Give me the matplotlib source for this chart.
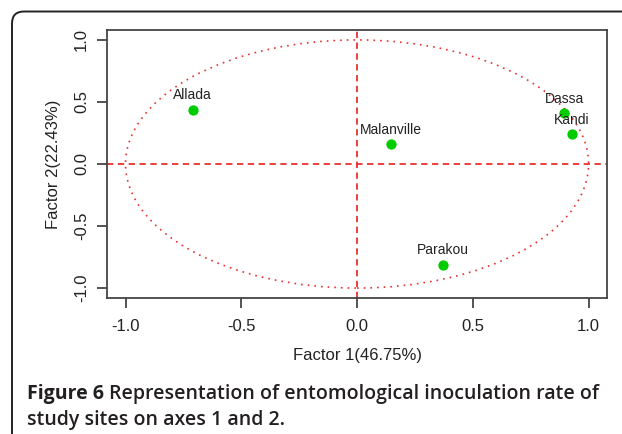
import matplotlib
matplotlib.use("Agg")
import matplotlib.pyplot as plt
import numpy as np
from matplotlib.patches import FancyBboxPatch, Ellipse

# site coordinates on factors 1 and 2
sites = ["Allada", "Malanville", "Dassa", "Kandi", "Parakou"]
factor1 = [-0.71, 0.147, 0.896, 0.929, 0.372]
factor2 = [0.437, 0.161, 0.408, 0.242, -0.813]

ticks = [-1.0, -0.5, 0.0, 0.5, 1.0]
tick_labels = ["-1.0", "-0.5", "0.0", "0.5", "1.0"]

plt.rcParams['font.family'] = ['Liberation Sans', 'DejaVu Sans']

fig = plt.figure(figsize=(6.22, 4.34), dpi=100)

# rounded frame, open on the right and bottom
frame = FancyBboxPatch((0.12, -0.3), 6.5, 4.225 + 0.3,
                       boxstyle="round,pad=0,rounding_size=0.12",
                       transform=fig.dpi_scale_trans, fill=False,
                       edgecolor="#222222", linewidth=1.4)
fig.patches.append(frame)

ax = fig.add_axes([0.172, 0.3134, 0.804, 0.6175])

red = "#e8322f"
ax.add_patch(Ellipse((0, 0), 2, 2, fill=False, edgecolor=red,
                     linestyle=(0, (1, 3)), linewidth=1.2))
ax.axhline(0, color=red, linestyle=(0, (3.5, 2.5)), linewidth=1.3)
ax.axvline(0, color=red, linestyle=(0, (3.5, 2.5)), linewidth=1.3)

ax.scatter(factor1, factor2, s=55, color="#00cd00", zorder=3, linewidths=0)
for name, x, y in zip(sites, factor1, factor2):
    ax.annotate(name, (x, y), xytext=(0, 7.5), textcoords="offset points",
                ha="center", va="baseline", fontsize=10, color="#222222")

ax.set_xlim(-1.08, 1.08)
ax.set_ylim(-1.08, 1.08)
ax.set_xticks(ticks)
ax.set_xticklabels(tick_labels)
ax.set_yticks(ticks)
ax.set_yticklabels(tick_labels, rotation=90, va="center")
ax.tick_params(axis="both", length=7, width=1.3, color="#444444",
               labelsize=12, labelcolor="#222222")
ax.tick_params(axis="x", pad=8)
ax.tick_params(axis="y", pad=6)
for sp in ax.spines.values():
    sp.set_color("#444444")
    sp.set_linewidth(1.3)

ax.set_xlabel("Factor 1(46.75%)", fontsize=12, color="#222222", labelpad=10)
ax.set_ylabel("Factor 2(22.43%)", fontsize=12, color="#222222", labelpad=9)

# caption
cap_font = ['Open Sans', 'DejaVu Sans']
t1 = fig.text(27 / 622, 1 - 399 / 434, "Figure 6", fontsize=14,
              fontweight="bold", family=cap_font, color="#231f20")
fig.canvas.draw()
bb = t1.get_window_extent()
fig.text((bb.x1 + 5) / 622, 1 - 399 / 434,
         "Representation of entomological inoculation rate of",
         fontsize=14, fontweight="semibold", family=cap_font, color="#231f20")
fig.text(27 / 622, 1 - 425 / 434, "study sites on axes 1 and 2.",
         fontsize=14, fontweight="semibold", family=cap_font, color="#231f20")

fig.savefig("out.png", dpi=100)
